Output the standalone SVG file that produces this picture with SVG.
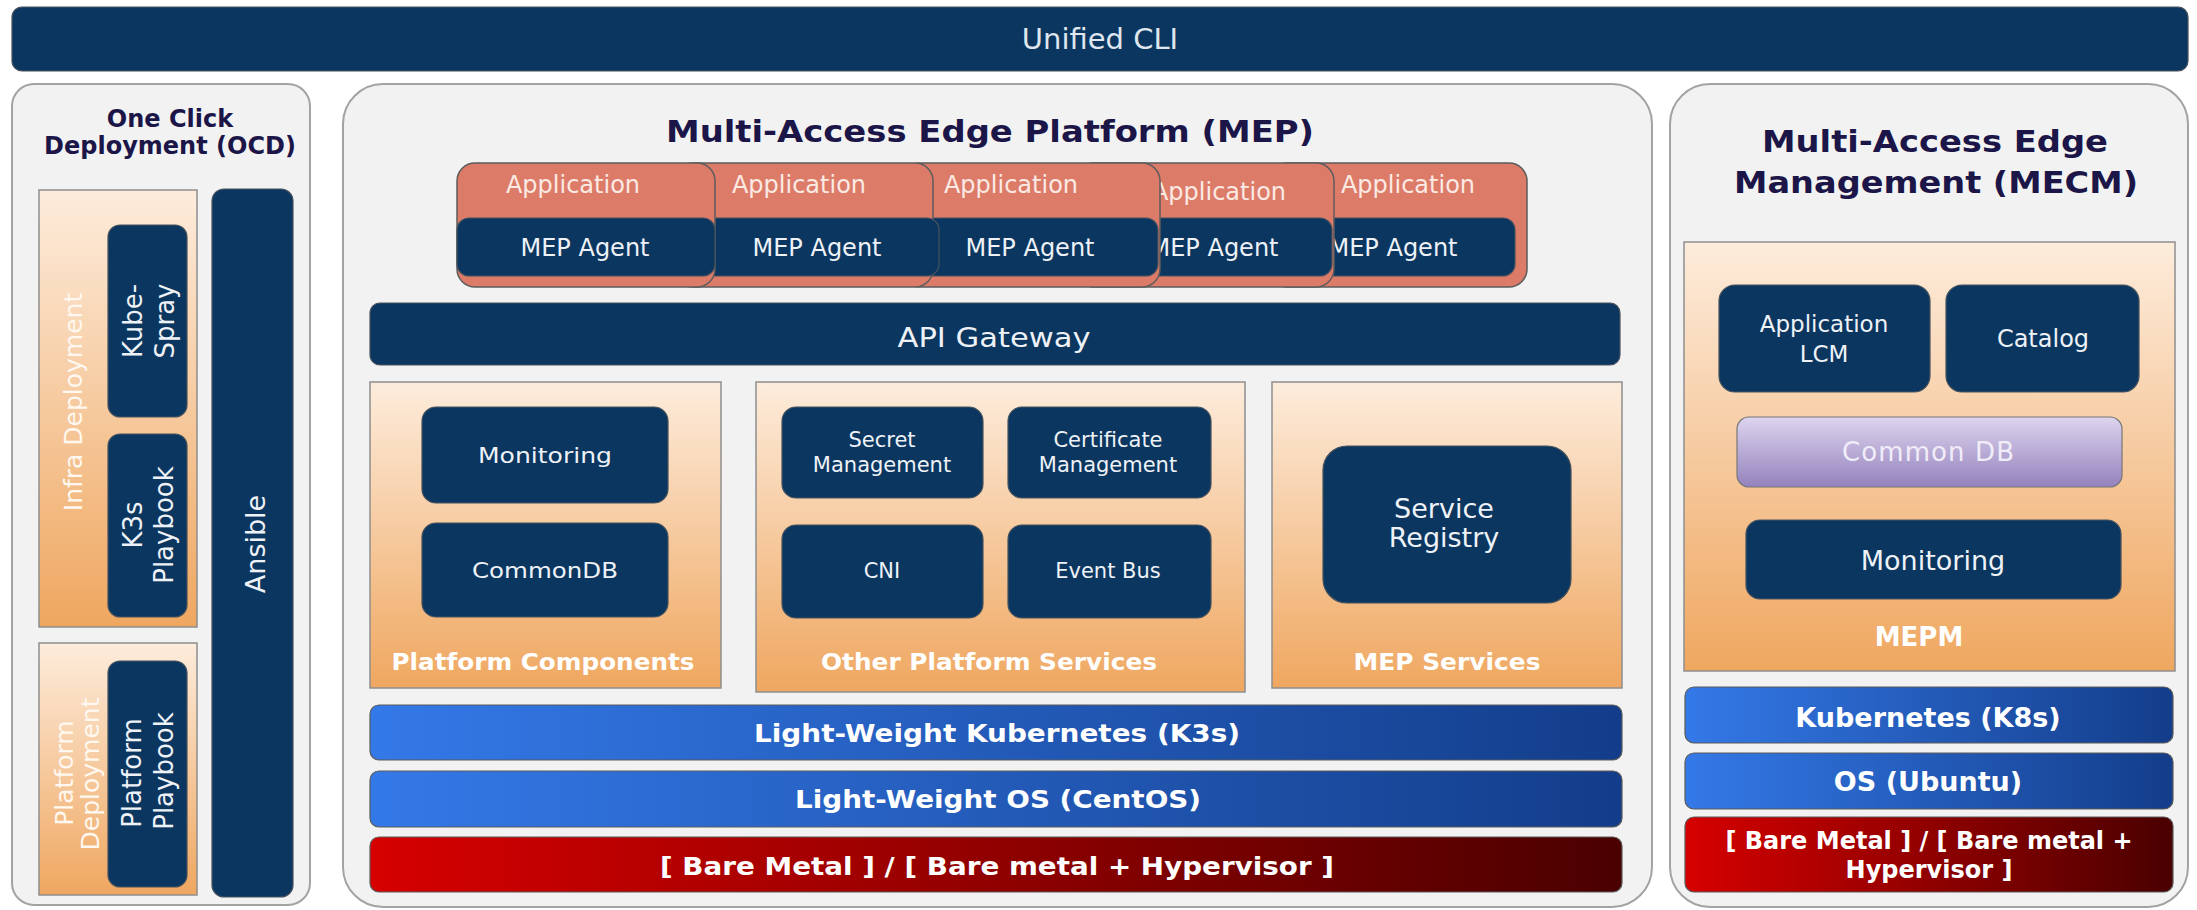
<svg xmlns="http://www.w3.org/2000/svg" width="2197" height="910" viewBox="0 0 2197 910">
<defs>
<linearGradient id="gOrange" x1="0" y1="0" x2="0" y2="1">
<stop offset="0" stop-color="#fdecdc"/>
<stop offset="1" stop-color="#efa760"/>
</linearGradient>
<linearGradient id="gBlue" x1="0" y1="0" x2="1" y2="0">
<stop offset="0" stop-color="#3479e8"/>
<stop offset="1" stop-color="#133d8a"/>
</linearGradient>
<linearGradient id="gRed" x1="0" y1="0" x2="1" y2="0">
<stop offset="0" stop-color="#d60000"/>
<stop offset="1" stop-color="#4a0000"/>
</linearGradient>
<linearGradient id="gLav" x1="0" y1="0" x2="0" y2="1">
<stop offset="0" stop-color="#ddd4ee"/>
<stop offset="1" stop-color="#9482bd"/>
</linearGradient>
<style>
.panel{fill:#f2f2f2;stroke:#a3a3a3;stroke-width:2}
.dark{fill:#0b365f;stroke:#46525e;stroke-width:1.2}
.orange{fill:url(#gOrange);stroke:#8e8e8e;stroke-width:1.5}
.app{fill:#dd7b69;stroke:#5c5c5c;stroke-width:1.5}
.blue{fill:url(#gBlue);stroke:#5a5a5a;stroke-width:1.2}
.red{fill:url(#gRed);stroke:#5a5a5a;stroke-width:1.2}
.lav{fill:url(#gLav);stroke:#777;stroke-width:1.2}
text{font-family:"DejaVu Sans",Verdana,sans-serif;text-anchor:middle}
.w{fill:#eef2f7}
.wb{fill:#ffffff;font-weight:bold}
.ttl{fill:#1b1548;font-weight:bold}
.at{fill:#fbeae4;font-size:24px}
.ag{fill:#eef2f7;font-size:24px}
.vl{fill:#fff8f0;font-size:25px}
.vb{fill:#eef2f7;font-size:26px}
</style>
</defs>

<g id="unified-cli">
<rect x="12" y="7" width="2176" height="64" rx="10" class="dark"/>
<text x="1100" y="49" font-size="29" fill="#dfe6ee">Unified CLI</text>
</g>

<g id="ocd">
<rect x="12" y="84" width="298" height="821" rx="22" class="panel"/>
<text x="170" y="127" font-size="24" class="ttl">One Click</text>
<text x="170" y="154" font-size="24" class="ttl">Deployment (OCD)</text>
</g>
<g id="infra-deployment">
<rect x="39" y="190" width="158" height="437" class="orange"/>
<text class="vl" transform="translate(82,402) rotate(-90)">Infra Deployment</text>
</g>
<g id="kube-spray">
<rect x="108" y="225" width="79" height="192" rx="12" class="dark"/>
<text class="vb" transform="translate(142,321) rotate(-90)">Kube-</text>
<text class="vb" transform="translate(174,321) rotate(-90)">Spray</text>
</g>
<g id="k3s-playbook">
<rect x="108" y="434" width="79" height="183" rx="12" class="dark"/>
<text class="vb" transform="translate(142,525) rotate(-90)">K3s</text>
<text class="vb" transform="translate(173,525) rotate(-90)">Playbook</text>
</g>
<g id="platform-deployment">
<rect x="39" y="643" width="158" height="252" class="orange"/>
<text class="vl" transform="translate(73,773) rotate(-90)">Platform</text>
<text class="vl" transform="translate(99,774) rotate(-90)">Deployment</text>
</g>
<g id="platform-playbook">
<rect x="108" y="661" width="79" height="226" rx="12" class="dark"/>
<text class="vb" transform="translate(141,773) rotate(-90)">Platform</text>
<text class="vb" transform="translate(173,771) rotate(-90)">Playbook</text>
</g>
<g id="ansible">
<rect x="212" y="189" width="81" height="708" rx="12" class="dark"/>
<text fill="#eef2f7" font-size="27" transform="translate(265,544) rotate(-90)">Ansible</text>
</g>

<g id="mep">
<rect x="343" y="84" width="1309" height="823" rx="40" class="panel"/>
<text x="990" y="142" font-size="31" class="ttl" textLength="648" lengthAdjust="spacingAndGlyphs">Multi-Access Edge Platform (MEP)</text>
</g>

<g id="app-card-5">
<rect x="1269" y="163" width="258" height="124" rx="18" class="app"/>
<rect x="1269" y="218" width="246" height="58" rx="12" class="dark"/>
<text x="1408" y="193" class="at">Application</text>
<text x="1393" y="256" class="ag">MEP Agent</text>
</g>
<g id="app-card-4">
<rect x="1076" y="163" width="258" height="124" rx="18" class="app"/>
<rect x="1076" y="218" width="256" height="58" rx="12" class="dark"/>
<text x="1219" y="200" class="at">Application</text>
<text x="1214" y="256" class="ag">MEP Agent</text>
</g>
<g id="app-card-3">
<rect x="902" y="163" width="258" height="124" rx="18" class="app"/>
<rect x="902" y="218" width="256" height="58" rx="12" class="dark"/>
<text x="1011" y="193" class="at">Application</text>
<text x="1030" y="256" class="ag">MEP Agent</text>
</g>
<g id="app-card-2">
<rect x="675" y="163" width="258" height="124" rx="18" class="app"/>
<rect x="675" y="218" width="264" height="58" rx="12" class="dark"/>
<text x="799" y="193" class="at">Application</text>
<text x="817" y="256" class="ag">MEP Agent</text>
</g>
<g id="app-card-1">
<rect x="457" y="163" width="258" height="124" rx="18" class="app"/>
<rect x="457" y="218" width="258" height="58" rx="12" class="dark"/>
<text x="573" y="193" class="at">Application</text>
<text x="585" y="256" class="ag">MEP Agent</text>
</g>

<g id="api-gateway">
<rect x="370" y="303" width="1250" height="62" rx="10" class="dark"/>
<text x="994" y="347" font-size="27" class="w" textLength="193" lengthAdjust="spacingAndGlyphs">API Gateway</text>
</g>

<g id="platform-components">
<rect x="370" y="382" width="351" height="306" class="orange"/>
<text x="543" y="670" font-size="23" class="wb" textLength="303" lengthAdjust="spacingAndGlyphs">Platform Components</text>
</g>
<g id="mep-monitoring">
<rect x="422" y="407" width="246" height="96" rx="14" class="dark"/>
<text x="545" y="463" font-size="22" class="w" textLength="134" lengthAdjust="spacingAndGlyphs">Monitoring</text>
</g>
<g id="mep-commondb">
<rect x="422" y="523" width="246" height="94" rx="14" class="dark"/>
<text x="545" y="578" font-size="22" class="w" textLength="146" lengthAdjust="spacingAndGlyphs">CommonDB</text>
</g>

<g id="other-platform-services">
<rect x="756" y="382" width="489" height="310" class="orange"/>
<text x="989" y="670" font-size="23" class="wb" textLength="336" lengthAdjust="spacingAndGlyphs">Other Platform Services</text>
</g>
<g id="secret-management">
<rect x="782" y="407" width="201" height="91" rx="14" class="dark"/>
<text x="882" y="447" font-size="21" class="w">Secret</text>
<text x="882" y="472" font-size="21" class="w">Management</text>
</g>
<g id="certificate-management">
<rect x="1008" y="407" width="203" height="91" rx="14" class="dark"/>
<text x="1108" y="447" font-size="21" class="w">Certificate</text>
<text x="1108" y="472" font-size="21" class="w">Management</text>
</g>
<g id="cni">
<rect x="782" y="525" width="201" height="93" rx="14" class="dark"/>
<text x="882" y="578" font-size="21" class="w">CNI</text>
</g>
<g id="event-bus">
<rect x="1008" y="525" width="203" height="93" rx="14" class="dark"/>
<text x="1108" y="578" font-size="21" class="w">Event Bus</text>
</g>

<g id="mep-services">
<rect x="1272" y="382" width="350" height="306" class="orange"/>
<text x="1447" y="670" font-size="23" class="wb" textLength="187" lengthAdjust="spacingAndGlyphs">MEP Services</text>
</g>
<g id="service-registry">
<rect x="1323" y="446" width="248" height="157" rx="24" class="dark"/>
<text x="1444" y="518" font-size="27" class="w">Service</text>
<text x="1444" y="547" font-size="27" class="w">Registry</text>
</g>

<g id="k3s">
<rect x="370" y="705" width="1252" height="55" rx="9" class="blue"/>
<text x="997" y="742" font-size="25" class="wb" textLength="486" lengthAdjust="spacingAndGlyphs">Light-Weight Kubernetes (K3s)</text>
</g>
<g id="centos">
<rect x="370" y="771" width="1252" height="56" rx="9" class="blue"/>
<text x="998" y="808" font-size="25" class="wb" textLength="406" lengthAdjust="spacingAndGlyphs">Light-Weight OS (CentOS)</text>
</g>
<g id="mep-bare-metal">
<rect x="370" y="837" width="1252" height="55" rx="9" class="red"/>
<text x="997" y="875" font-size="25" class="wb" textLength="674" lengthAdjust="spacingAndGlyphs">[ Bare Metal ] / [ Bare metal + Hypervisor ]</text>
</g>

<g id="mecm">
<rect x="1670" y="84" width="518" height="823" rx="40" class="panel"/>
<text x="1935" y="152" font-size="31" class="ttl" textLength="346" lengthAdjust="spacingAndGlyphs">Multi-Access Edge</text>
<text x="1936" y="193" font-size="31" class="ttl" textLength="404" lengthAdjust="spacingAndGlyphs">Management (MECM)</text>
</g>
<g id="mepm">
<rect x="1684" y="242" width="491" height="429" class="orange"/>
<text x="1919" y="646" font-size="26" class="wb">MEPM</text>
</g>
<g id="application-lcm">
<rect x="1719" y="285" width="211" height="107" rx="16" class="dark"/>
<text x="1824" y="332" font-size="23" class="w">Application</text>
<text x="1824" y="362" font-size="23" class="w">LCM</text>
</g>
<g id="catalog">
<rect x="1946" y="285" width="193" height="107" rx="16" class="dark"/>
<text x="2043" y="347" font-size="24" class="w">Catalog</text>
</g>
<g id="common-db">
<rect x="1737" y="417" width="385" height="70" rx="12" class="lav"/>
<text x="1928" y="461" font-size="26" fill="#f1edf8" textLength="172" lengthAdjust="spacing">Common DB</text>
</g>
<g id="mecm-monitoring">
<rect x="1746" y="520" width="375" height="79" rx="14" class="dark"/>
<text x="1933" y="570" font-size="27" class="w">Monitoring</text>
</g>
<g id="k8s">
<rect x="1685" y="687" width="488" height="56" rx="9" class="blue"/>
<text x="1928" y="727" font-size="27" class="wb">Kubernetes (K8s)</text>
</g>
<g id="ubuntu">
<rect x="1685" y="753" width="488" height="56" rx="9" class="blue"/>
<text x="1928" y="791" font-size="27" class="wb">OS (Ubuntu)</text>
</g>
<g id="mecm-bare-metal">
<rect x="1685" y="817" width="488" height="75" rx="9" class="red"/>
<text x="1929" y="849" font-size="24" class="wb">[ Bare Metal ] / [ Bare metal +</text>
<text x="1929" y="878" font-size="24" class="wb">Hypervisor ]</text>
</g>
</svg>
